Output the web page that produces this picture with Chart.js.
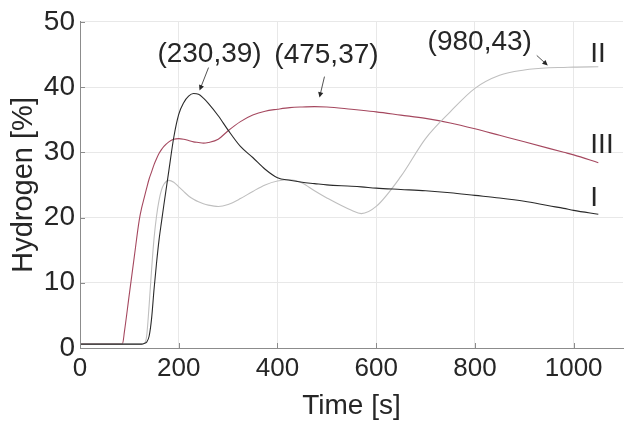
<!DOCTYPE html>
<html>
<head>
<meta charset="utf-8">
<script src="https://cdn.jsdelivr.net/npm/chart.js@4/dist/chart.umd.min.js"></script>
<style>
  html, body { margin: 0; padding: 0; background: #fff; }
  #wrap { width: 630px; height: 425px; }
</style>
</head>
<body>
<div id="wrap"><canvas id="myChart" width="630" height="425"></canvas></div>
<script>
// time axis [s]
const time = [0, 86, 90, 100, 110, 120, 125, 130, 135, 140, 145, 150, 155, 160, 165, 170, 180, 190, 200, 210, 220, 230, 240, 250, 260, 280, 300, 325, 350, 375, 400, 425, 450, 475, 500, 550, 570, 600, 650, 700, 750, 800, 850, 900, 950, 980, 1000, 1050]

// hydrogen [%]
const seriesI = [0.6, 0.6, 0.6, 0.6, 0.6, 0.6, 0.6, 0.7, 0.9, 1.8, 4.5, 9.0, 13.0, 16.5, 19.3, 22.0, 27.2, 32.3, 35.8, 37.6, 38.6, 39.0, 38.9, 38.3, 37.5, 35.6, 33.4, 30.9, 29.2, 27.4, 26.1, 25.7, 25.4, 25.2, 25.0, 24.8, 24.7, 24.5, 24.3, 24.1, 23.8, 23.4, 23.0, 22.5, 21.8, 21.4, 21.1, 20.5]
const seriesII = [0.6, 0.6, 0.6, 0.6, 0.6, 0.6, 0.6, 0.7, 1.8, 6.5, 12.0, 16.8, 20.2, 22.6, 24.2, 25.1, 25.7, 25.4, 24.7, 24.0, 23.3, 22.8, 22.4, 22.1, 21.9, 21.7, 22.0, 22.9, 24.0, 25.0, 25.6, 25.8, 25.3, 24.1, 23.0, 21.1, 20.6, 21.7, 26.3, 32.1, 36.2, 39.8, 41.8, 42.6, 42.95, 43.0, 43.05, 43.1]
const seriesIII = [0.6, 0.6, 2.5, 8.3, 14.0, 19.6, 21.5, 23.0, 24.5, 25.9, 27.0, 28.1, 29.0, 29.8, 30.4, 30.9, 31.6, 32.0, 32.1, 32.0, 31.8, 31.6, 31.5, 31.4, 31.5, 32.0, 33.3, 34.7, 35.7, 36.3, 36.6, 36.85, 36.95, 37.0, 36.95, 36.6, 36.45, 36.2, 35.7, 35.2, 34.5, 33.6, 32.6, 31.6, 30.6, 30.0, 29.6, 28.4]

const xTicks = [0, 200, 400, 600, 800, 1000]
const yTicks = [0, 10, 20, 30, 40, 50]

// marked peaks: [time, value]
const peaks = [[230, 39], [475, 37], [980, 43]]
const curveNames = ['I', 'II', 'III']

const textColor = '#262626'
const axisColor = '#8c8c8c'
const font = 'Arial, "Liberation Sans", Helvetica, sans-serif'

const toPoints = (vals) => time.map((t, i) => ({ x: t, y: vals[i] }))

// peak labels: which series, offsets of text / arrow tail / arrow head from the point
const peakStyle = [
    { series: 0, text: [16, -39], tail: [15, -26], head: [6, -3] },
    { series: 2, text: [12, -51], tail: [10, -30], head: [5, -9] },
    { series: 1, text: [-84, -25], tail: [-27, -12], head: [-16, -2] }
]
// curve names near the right end of each line
const nameStyle = [[-8, -16], [-8, -13], [-8, -17]]

const drawArrow = (c, x1, y1, x2, y2) => {
    const a = Math.atan2(y2 - y1, x2 - x1)
    const len = 6
    c.beginPath()
    c.moveTo(x1, y1)
    c.lineTo(x2 - Math.cos(a) * 3, y2 - Math.sin(a) * 3)
    c.stroke()
    c.beginPath()
    c.moveTo(x2, y2)
    c.lineTo(x2 - len * Math.cos(a - 0.45), y2 - len * Math.sin(a - 0.45))
    c.lineTo(x2 - len * Math.cos(a + 0.45), y2 - len * Math.sin(a + 0.45))
    c.closePath()
    c.fill()
}

const labels = {
    id: 'labels',
    afterDatasetsDraw(chart) {
        const c = chart.ctx
        const sx = chart.scales.x, sy = chart.scales.y
        const area = chart.chartArea
        c.save()
        // inward tick marks
        c.strokeStyle = axisColor
        c.lineWidth = 1
        xTicks.forEach(t => {
            const px = Math.round(sx.getPixelForValue(t)) + 0.5
            c.beginPath(); c.moveTo(px, area.bottom); c.lineTo(px, area.bottom - 5); c.stroke()
        })
        yTicks.forEach(t => {
            const py = Math.round(sy.getPixelForValue(t)) + 0.5
            c.beginPath(); c.moveTo(area.left, py); c.lineTo(area.left + 5, py); c.stroke()
        })
        // peak annotations
        c.fillStyle = textColor
        c.strokeStyle = textColor
        c.lineWidth = 0.8
        c.font = '28px ' + font
        c.textAlign = 'center'
        c.textBaseline = 'middle'
        peaks.forEach(([t, v], i) => {
            const st = peakStyle[i]
            const px = sx.getPixelForValue(t), py = sy.getPixelForValue(v)
            c.fillText('(' + t + ',' + v + ')', px + st.text[0], py + st.text[1])
            drawArrow(c, px + st.tail[0], py + st.tail[1], px + st.head[0], py + st.head[1])
        })
        // curve names
        c.textAlign = 'left'
        c.font = '28px ' + font
        const sets = [seriesI, seriesII, seriesIII]
        sets.forEach((s, i) => {
            const px = sx.getPixelForValue(time[time.length - 1])
            const py = sy.getPixelForValue(s[s.length - 1])
            c.fillText(curveNames[i], px + nameStyle[i][0], py + nameStyle[i][1])
        })
        c.restore()
    }
}

let ctx = document.getElementById('myChart')
let myChart = new Chart(ctx, {
    type: 'line',
    data: {
        datasets: [
            { label: 'I', data: toPoints(seriesI), borderColor: '#2a2a2a', borderWidth: 1.1 },
            { label: 'II', data: toPoints(seriesII), borderColor: '#bfbfbf', borderWidth: 1.1 },
            { label: 'III', data: toPoints(seriesIII), borderColor: '#a5485f', borderWidth: 1.1 }
        ]
    },
    options: {
        responsive: false,
        animation: false,
        elements: {
            point: { radius: 0 },
            line: { cubicInterpolationMode: 'monotone', fill: false }
        },
        layout: { padding: { top: 19, right: 7, left: 0, bottom: 0 } },
        plugins: {
            legend: { display: false },
            tooltip: { enabled: false }
        },
        scales: {
            x: {
                type: 'linear',
                min: 0,
                max: 1100,
                afterFit: (s) => { s.height = 77 },
                grid: { color: '#e8e8e8', drawTicks: false },
                border: { color: axisColor },
                ticks: {
                    stepSize: 200,
                    includeBounds: false,
                    padding: 5,
                    color: textColor,
                    maxRotation: 0,
                    callback: (v) => String(v),
                    font: { family: font, size: 26 }
                },
                title: {
                    display: true,
                    text: 'Time [s]',
                    color: textColor,
                    padding: { top: 0, bottom: 2 },
                    font: { family: font, size: 28 }
                }
            },
            y: {
                min: 0,
                max: 50,
                afterFit: (s) => { s.width = 80 },
                grid: { color: '#e8e8e8', drawTicks: false },
                border: { color: axisColor },
                ticks: {
                    stepSize: 10,
                    padding: 5,
                    color: textColor,
                    callback: (v) => String(v),
                    font: { family: font, size: 28 }
                },
                title: {
                    display: true,
                    text: 'Hydrogen [%]',
                    color: textColor,
                    padding: { top: 7, bottom: 0 },
                    font: { family: font, size: 29 }
                }
            }
        }
    },
    plugins: [labels]
})
</script>
</body>
</html>
